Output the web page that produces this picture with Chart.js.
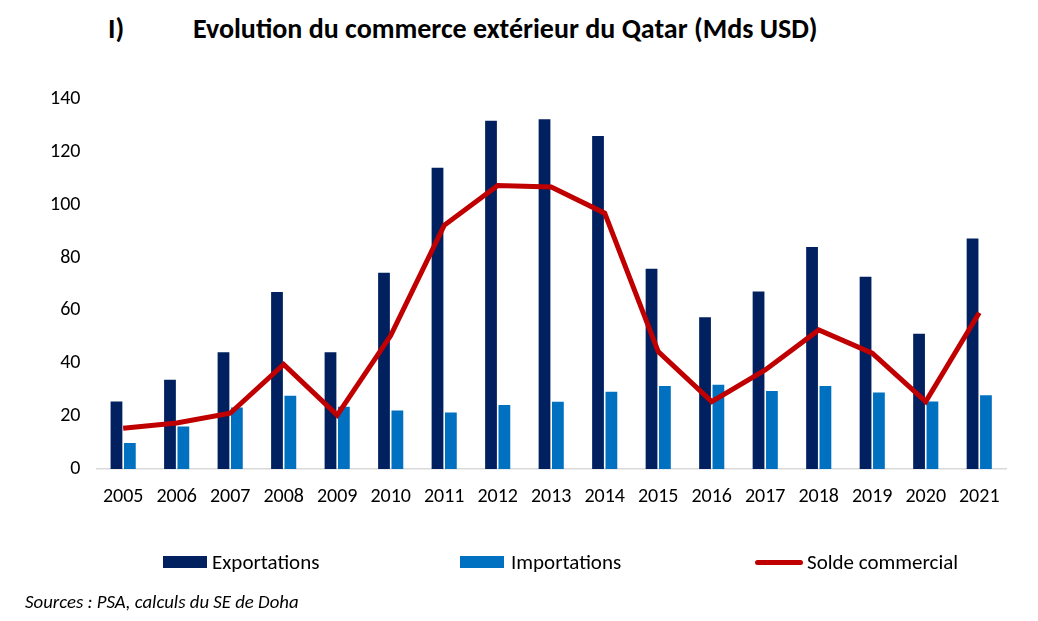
<html lang="fr">
<head>
  <meta charset="UTF-8">
  <title>Commerce extérieur du Qatar</title>
  <script src="https://cdn.jsdelivr.net/npm/chart.js"></script>
  <style>
    body {
      margin: 0;
      background: #fff;
      font-family: Carlito, Lato, "Noto Sans", sans-serif;
      color: #000;
    }
    #page {
      position: relative;
      width: 1038px;
      height: 621px;
      overflow: hidden;
    }
    #chart {
      position: absolute;
      left: 0;
      top: 0;
    }
    .titre {
      position: absolute;
      top: 11px;
      font-size: 28px;
      font-weight: bold;
      white-space: nowrap;
    }
    #legende .item {
      position: absolute;
      top: 549px;
      font-size: 21px;
      white-space: nowrap;
      display: flex;
      align-items: center;
    }
    #legende .swatch {
      display: inline-block;
    }
    #sources {
      position: absolute;
      left: 25px;
      top: 590px;
      font-size: 18.8px;
      font-style: italic;
      white-space: nowrap;
    }
  </style>
</head>
<body>
  <div id="page">
    <div class="titre" style="left:108px;">I)</div>
    <div class="titre" style="left:193px;">Evolution du commerce extérieur du Qatar (Mds USD)</div>
    <canvas id="chart" width="1038" height="621"></canvas>
    <div id="legende"></div>
    <div id="sources">Sources : PSA, calculs du SE de Doha</div>
  </div>

  <script>
    const annees = ['2005', '2006', '2007', '2008', '2009', '2010', '2011', '2012', '2013',
      '2014', '2015', '2016', '2017', '2018', '2019', '2020', '2021'];
    const exportations = [25.5, 33.8, 44.2, 67.0, 44.2, 74.3, 114.0, 131.8, 132.3,
      126.0, 75.8, 57.4, 67.2, 84.0, 72.7, 51.2, 87.2];
    const importations = [9.8, 16.1, 23.3, 27.7, 23.6, 22.1, 21.4, 24.2, 25.4,
      29.2, 31.4, 31.9, 29.5, 31.4, 28.9, 25.5, 27.9];
    const solde = [15.4, 17.4, 21.1, 39.6, 20.4, 50.5, 92.2, 107.3, 106.7,
      96.8, 44.4, 25.5, 37.5, 52.6, 43.8, 25.5, 59.1];

    const police = 'Carlito, Lato, "Noto Sans", sans-serif';

    const ctx = document.getElementById('chart').getContext('2d');
    const graphique = new Chart(ctx, {
      data: {
        labels: annees,
        datasets: [
          {
            type: 'line',
            label: 'Solde commercial',
            data: solde,
            borderColor: '#C00000',
            backgroundColor: '#C00000',
            borderWidth: 5,
            pointRadius: 0,
            tension: 0,
            order: 0
          },
          {
            type: 'bar',
            label: 'Exportations',
            data: exportations,
            backgroundColor: '#002060',
            barPercentage: 0.88,
            categoryPercentage: 0.5,
            order: 1
          },
          {
            type: 'bar',
            label: 'Importations',
            data: importations,
            backgroundColor: '#0070C0',
            barPercentage: 0.88,
            categoryPercentage: 0.5,
            order: 1
          }
        ]
      },
      options: {
        responsive: false,
        animation: false,
        layout: {
          padding: { top: 99, right: 32, bottom: 96, left: 34 }
        },
        plugins: {
          legend: { display: false },
          tooltip: { enabled: false }
        },
        scales: {
          x: {
            offset: true,
            grid: { display: false, drawTicks: false },
            border: { display: true, color: '#D9D9D9', width: 1.5 },
            ticks: {
              color: '#000',
              padding: 16,
              font: { family: police, size: 20 }
            }
          },
          y: {
            min: 0,
            max: 140,
            grid: { display: false, drawTicks: false },
            border: { display: false },
            ticks: {
              stepSize: 20,
              color: '#000',
              padding: 16,
              font: { family: police, size: 20 }
            }
          }
        }
      }
    });

    // légende faite à la main pour garder les grands écarts de l'original
    const positions = {
      'Exportations': { x: 163, gap: 5 },
      'Importations': { x: 460, gap: 7 },
      'Solde commercial': { x: 755, gap: 4 }
    };
    const legende = document.getElementById('legende');
    ['Exportations', 'Importations', 'Solde commercial'].forEach(nom => {
      const ds = graphique.data.datasets.find(d => d.label === nom);
      const item = document.createElement('div');
      item.className = 'item';
      item.style.left = positions[nom].x + 'px';
      const swatch = document.createElement('span');
      swatch.className = 'swatch';
      swatch.style.marginRight = positions[nom].gap + 'px';
      if (ds.type === 'line') {
        swatch.style.width = '48px';
        swatch.style.height = '5px';
        swatch.style.borderRadius = '3px';
        swatch.style.background = ds.borderColor;
      } else {
        swatch.style.width = '44px';
        swatch.style.height = '12px';
        swatch.style.background = ds.backgroundColor;
      }
      item.appendChild(swatch);
      item.appendChild(document.createTextNode(nom));
      legende.appendChild(item);
    });
  </script>
</body>
</html>
